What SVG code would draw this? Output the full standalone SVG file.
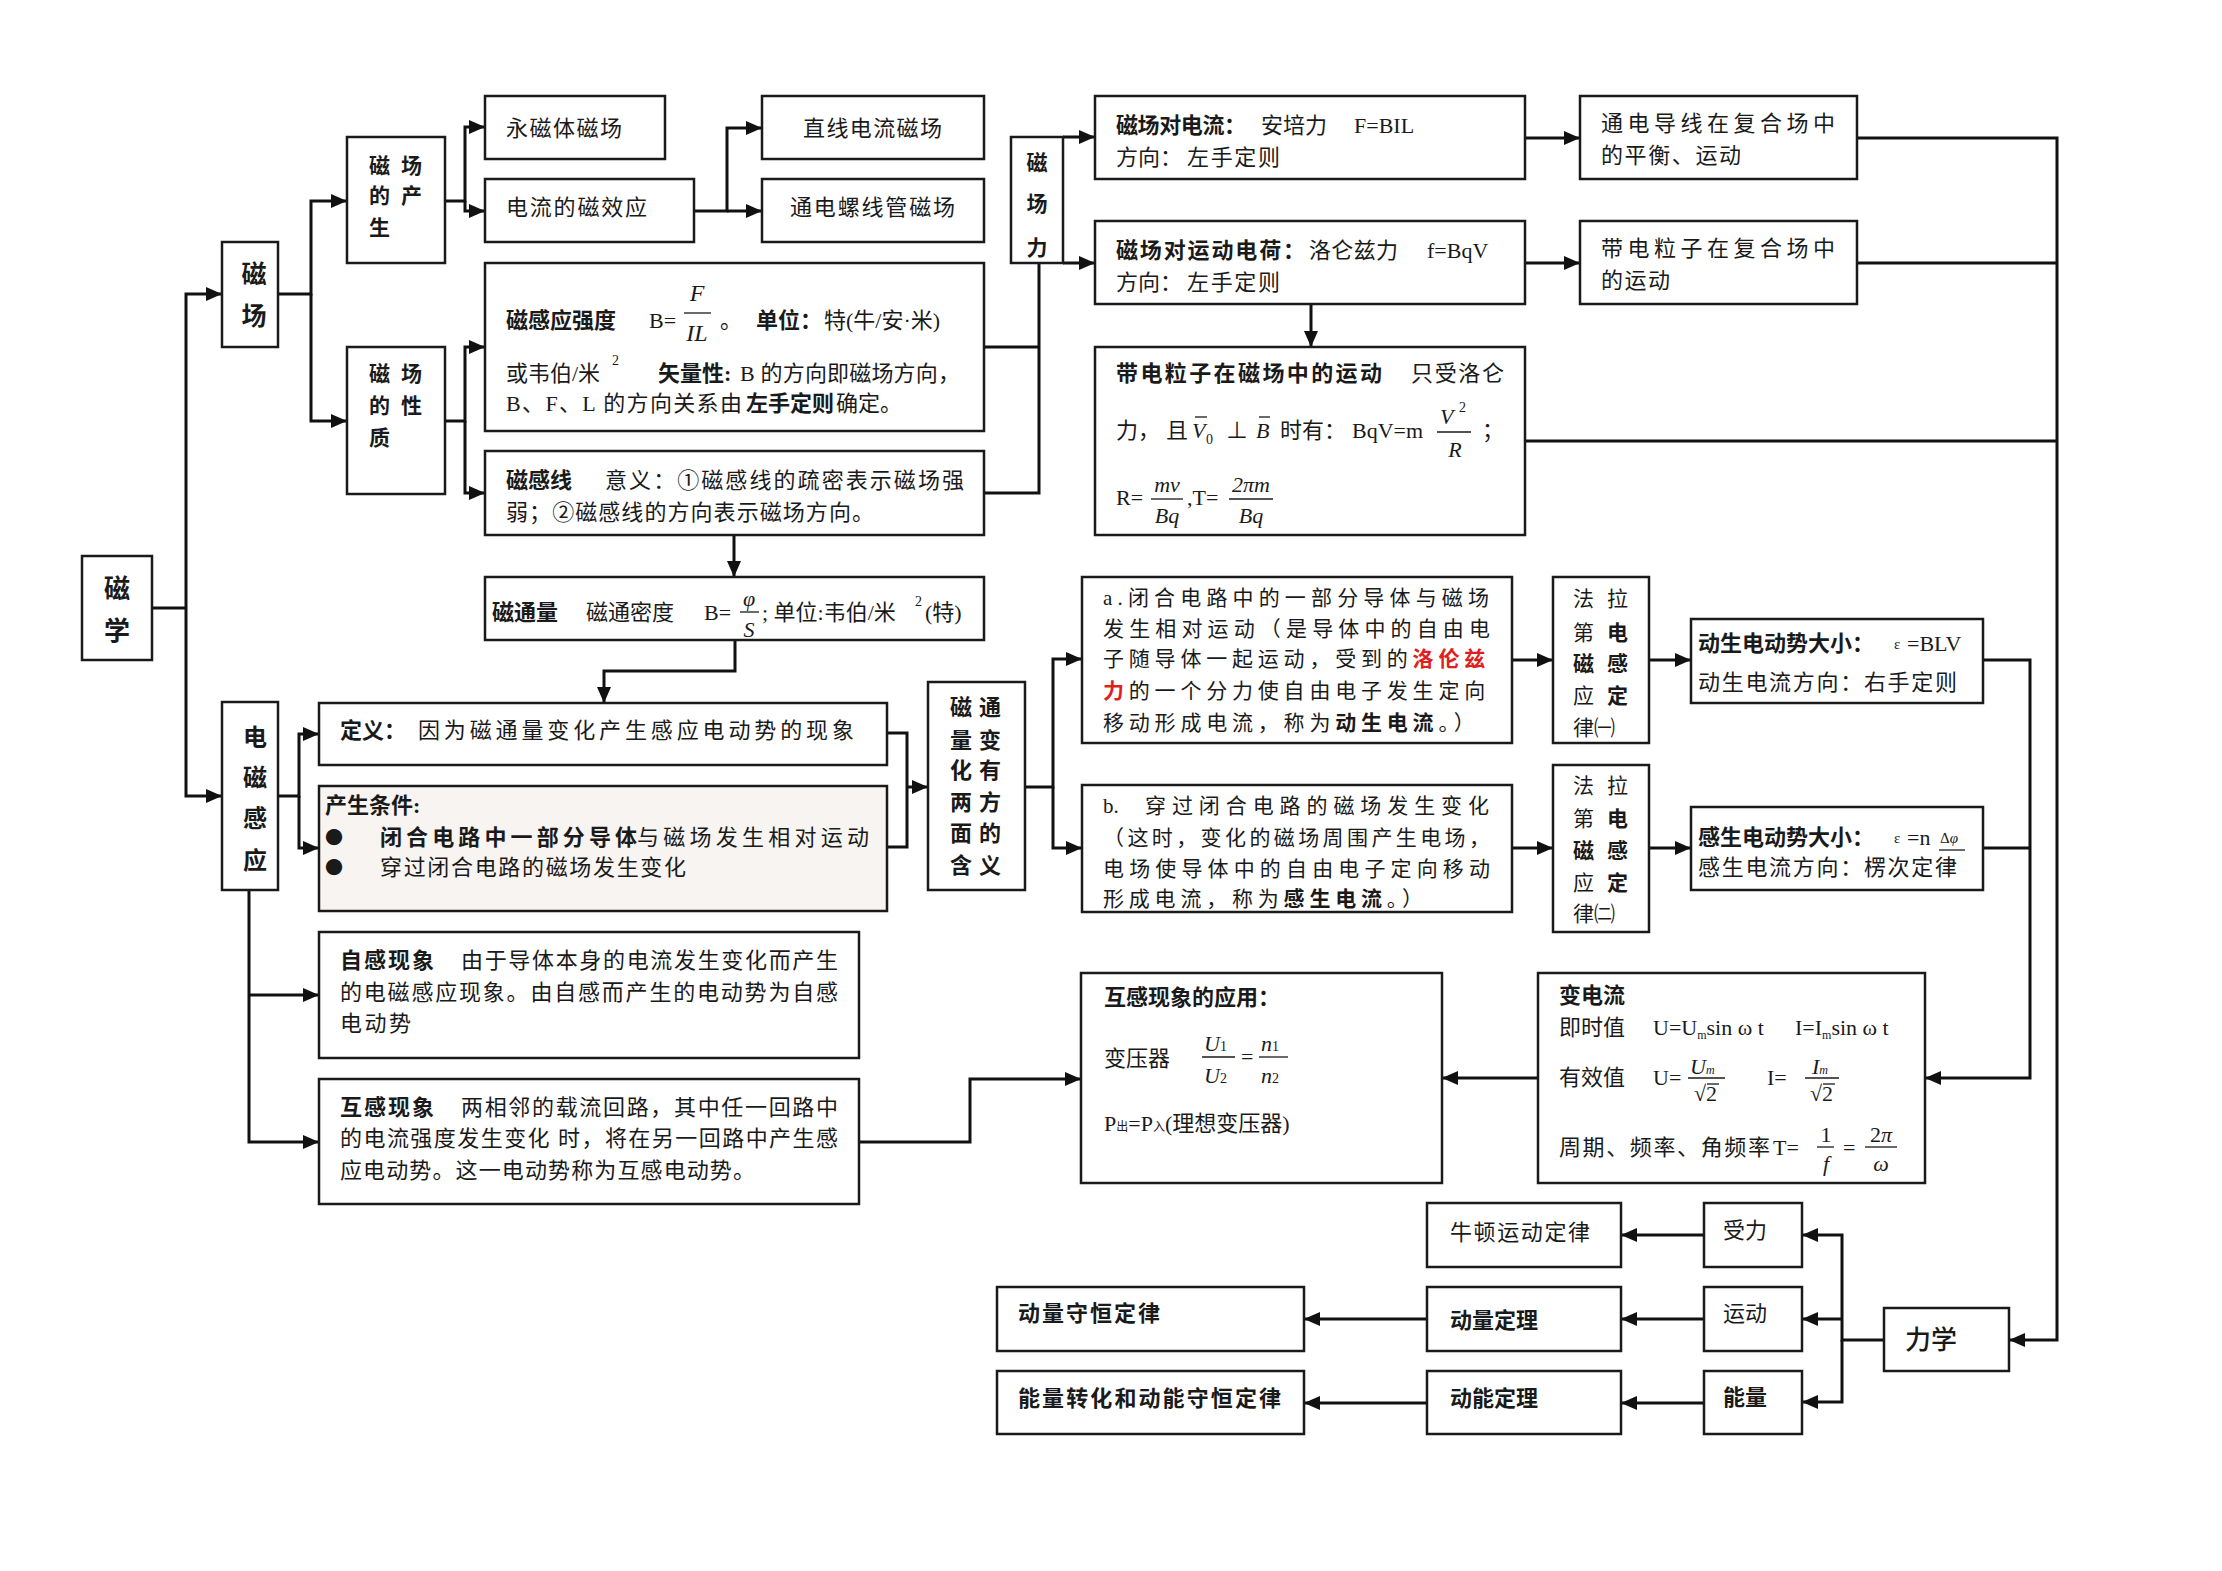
<svg xmlns="http://www.w3.org/2000/svg" width="2222" height="1571" viewBox="0 0 2222 1571">
<defs>
<style>
.bx{fill:#fff;stroke:#1a1a1a;stroke-width:2.5}
.ln{fill:none;stroke:#111;stroke-width:3}
.fr{stroke:#1a1a1a;stroke-width:1.3}
text{font-family:"Liberation Serif","Noto Sans CJK SC",serif;font-size:22px;fill:#1a1a1a}
.h{font-weight:bold}
.k{font-family:"Noto Sans CJK SC",sans-serif}
.i{font-style:italic}
.r{fill:#e02020;font-weight:bold}
.sm{font-size:14px}
.f20{font-size:22px}
.bul{font-family:"Noto Sans CJK SC",sans-serif;font-size:18px}
</style>
<marker id="ah" markerUnits="userSpaceOnUse" markerWidth="16" markerHeight="14" refX="16" refY="7" orient="auto"><path d="M0,0 L16,7 L0,14 z" fill="#111"/></marker>
</defs>
<rect width="2222" height="1571" fill="#fff"/>

<g id="connectors" class="ln">
<path d="M152,608 H186"/>
<path d="M186,608 V294 H222" marker-end="url(#ah)"/>
<path d="M186,608 V796 H222" marker-end="url(#ah)"/>
<path d="M278,294 H311 V201 H347" marker-end="url(#ah)"/>
<path d="M311,294 V421 H347" marker-end="url(#ah)"/>
<path d="M445,201 H465 V127 H485" marker-end="url(#ah)"/>
<path d="M465,201 V211 H485" marker-end="url(#ah)"/>
<path d="M445,421 H465 V347 H485" marker-end="url(#ah)"/>
<path d="M465,421 V493 H485" marker-end="url(#ah)"/>
<path d="M694,211 H727 V128 H762" marker-end="url(#ah)"/>
<path d="M727,211 H762" marker-end="url(#ah)"/>
<path d="M984,347 H1039"/>
<path d="M984,493 H1039 V263"/>
<path d="M1063,137 H1095" marker-end="url(#ah)"/>
<path d="M1063,263 H1095" marker-end="url(#ah)"/>
<path d="M1525,138 H1580" marker-end="url(#ah)"/>
<path d="M1525,263 H1580" marker-end="url(#ah)"/>
<path d="M1311,304 V347" marker-end="url(#ah)"/>
<path d="M1857,138 H2057 V1340 H2009" marker-end="url(#ah)"/>
<path d="M1857,263 H2057"/>
<path d="M1525,441 H2057"/>
<path d="M734,535 V577" marker-end="url(#ah)"/>
<path d="M735,640 V671 H604 V703" marker-end="url(#ah)"/>
<path d="M278,796 H299 V734 H319" marker-end="url(#ah)"/>
<path d="M299,796 V848 H319" marker-end="url(#ah)"/>
<path d="M887,733 H907 V847 H887"/>
<path d="M907,787 H928" marker-end="url(#ah)"/>
<path d="M1025,787 H1053 V659 H1082" marker-end="url(#ah)"/>
<path d="M1053,787 V848 H1082" marker-end="url(#ah)"/>
<path d="M1512,660 H1553" marker-end="url(#ah)"/>
<path d="M1649,660 H1691" marker-end="url(#ah)"/>
<path d="M1512,848 H1553" marker-end="url(#ah)"/>
<path d="M1649,848 H1691" marker-end="url(#ah)"/>
<path d="M1983,660 H2030 V1078 H1925" marker-end="url(#ah)"/>
<path d="M1983,848 H2030"/>
<path d="M1538,1078 H1442" marker-end="url(#ah)"/>
<path d="M249,890 V1142 H319" marker-end="url(#ah)"/>
<path d="M249,995 H319" marker-end="url(#ah)"/>
<path d="M859,1142 H970 V1079 H1081" marker-end="url(#ah)"/>
<path d="M1884,1340 H1842 V1235 H1802" marker-end="url(#ah)"/>
<path d="M1842,1340 V1402 H1802" marker-end="url(#ah)"/>
<path d="M1842,1319 H1802" marker-end="url(#ah)"/>
<path d="M1704,1235 H1621" marker-end="url(#ah)"/>
<path d="M1704,1319 H1621" marker-end="url(#ah)"/>
<path d="M1704,1403 H1621" marker-end="url(#ah)"/>
<path d="M1427,1319 H1304" marker-end="url(#ah)"/>
<path d="M1427,1403 H1304" marker-end="url(#ah)"/>
</g>

<g id="cixue"><rect class="bx" x="82" y="556" width="70" height="104"/>
<text class="h" style="font-size:26px" x="117" y="598" text-anchor="middle">磁</text>
<text class="h" style="font-size:26px" x="117" y="640" text-anchor="middle">学</text></g>

<g id="cichang"><rect class="bx" x="222" y="242" width="56" height="105"/>
<text class="h" style="font-size:25px" x="254" y="283" text-anchor="middle">磁</text>
<text class="h" style="font-size:25px" x="254" y="325" text-anchor="middle">场</text></g>

<g id="chansheng"><rect class="bx" x="347" y="137" width="98" height="126"/>
<text class="h" style="font-size:21px" x="369 401" y="173">磁场</text>
<text class="h" style="font-size:21px" x="369 401" y="203">的产</text>
<text class="h" style="font-size:21px" x="369" y="235">生</text></g>

<g id="xingzhi"><rect class="bx" x="347" y="347" width="98" height="147"/>
<text class="h" style="font-size:21px" x="369 401" y="381">磁场</text>
<text class="h" style="font-size:21px" x="369 401" y="413">的性</text>
<text class="h" style="font-size:21px" x="369" y="445">质</text></g>

<g id="yongci"><rect class="bx" x="485" y="96" width="180" height="63"/>
<text x="506" y="136" textLength="116">永磁体磁场</text></g>

<g id="dianliu"><rect class="bx" x="485" y="179" width="209" height="63"/>
<text x="506" y="215" textLength="141">电流的磁效应</text></g>

<g id="zhixian"><rect class="bx" x="762" y="96" width="222" height="63"/>
<text x="803" y="136" textLength="139">直线电流磁场</text></g>

<g id="luoxian"><rect class="bx" x="762" y="179" width="222" height="63"/>
<text x="790" y="215" textLength="165">通电螺线管磁场</text></g>

<g id="qiangdu"><rect class="bx" x="485" y="263" width="499" height="168"/>
<text class="h" x="506" y="328">磁感应强度</text>
<text x="649" y="328">B=</text>
<text class="i" style="font-size:24px" x="697" y="301" text-anchor="middle">F</text>
<line class="fr" x1="684" y1="313" x2="711" y2="313"/>
<text class="i" style="font-size:24px" x="697" y="341" text-anchor="middle">IL</text>
<text x="720" y="328">。</text>
<text class="h" x="756" y="328">单位：</text>
<text x="824" y="328">特(牛/安·米)</text>
<text x="506" y="381">或韦伯/米</text>
<text class="sm" x="612" y="365">2</text>
<text class="h" x="658" y="381">矢量性:</text>
<text x="740" y="381" textLength="220">B 的方向即磁场方向，</text>
<text x="506" y="411" textLength="236">B、F、L 的方向关系由</text>
<text class="h" x="746" y="411">左手定则</text>
<text x="836" y="411">确定。</text></g>

<g id="cigan"><rect class="bx" x="485" y="451" width="499" height="84"/>
<text class="h" x="506" y="488">磁感线</text>
<text x="605" y="488" textLength="359">意义：①磁感线的疏密表示磁场强</text>
<text x="506" y="520" textLength="368">弱；②磁感线的方向表示磁场方向。</text></g>

<g id="cichangli"><rect class="bx" x="1011" y="137" width="52" height="126"/>
<text class="h" style="font-size:21px" x="1037" y="170" text-anchor="middle">磁</text>
<text class="h" style="font-size:21px" x="1037" y="211" text-anchor="middle">场</text>
<text class="h" style="font-size:21px" x="1037" y="255" text-anchor="middle">力</text></g>

<g id="anpei"><rect class="bx" x="1095" y="96" width="430" height="83"/>
<text class="h" x="1116" y="133" textLength="130">磁场对电流：</text>
<text x="1261" y="133">安培力</text>
<text x="1354" y="133">F=BIL</text>
<text x="1116" y="165">方向：</text>
<text x="1187" y="165" textLength="93">左手定则</text></g>

<g id="luolun"><rect class="bx" x="1095" y="221" width="430" height="83"/>
<text class="h" x="1116" y="258" textLength="189">磁场对运动电荷：</text>
<text x="1309" y="258" textLength="89">洛仑兹力</text>
<text x="1427" y="258">f=BqV</text>
<text x="1116" y="290">方向：</text>
<text x="1187" y="290" textLength="93">左手定则</text></g>

<g id="lizi"><rect class="bx" x="1095" y="347" width="430" height="188"/>
<text class="h" x="1116" y="381" textLength="266">带电粒子在磁场中的运动</text>
<text x="1411" y="381" textLength="93">只受洛仑</text>
<text x="1116" y="438">力，</text>
<text x="1166" y="438">且</text>
<text class="i" x="1192" y="438">V</text>
<line class="fr" x1="1195" y1="417" x2="1207" y2="417"/>
<text class="sm" x="1206" y="444">0</text>
<text x="1226" y="438">⊥</text>
<text class="i" x="1256" y="438">B</text>
<line class="fr" x1="1259" y1="417" x2="1270" y2="417"/>
<text x="1280" y="438">时有：</text>
<text x="1352" y="438">BqV=m</text>
<text class="i" x="1440" y="424">V</text>
<text class="sm" x="1459" y="412">2</text>
<line class="fr" x1="1437" y1="432" x2="1471" y2="432"/>
<text class="i" x="1455" y="457" text-anchor="middle">R</text>
<text x="1482" y="438">；</text>
<text x="1116" y="505">R=</text>
<text class="i f20" x="1167" y="492" text-anchor="middle">mv</text>
<line class="fr" x1="1151" y1="499" x2="1183" y2="499"/>
<text class="i f20" x="1167" y="523" text-anchor="middle">Bq</text>
<text x="1187" y="505">,T=</text>
<text class="i f20" x="1251" y="492" text-anchor="middle">2πm</text>
<line class="fr" x1="1229" y1="499" x2="1273" y2="499"/>
<text class="i f20" x="1251" y="523" text-anchor="middle">Bq</text></g>

<g id="fuhe1"><rect class="bx" x="1580" y="96" width="277" height="83"/>
<text x="1601" y="131" textLength="234">通电导线在复合场中</text>
<text x="1601" y="163" textLength="140">的平衡、运动</text></g>

<g id="fuhe2"><rect class="bx" x="1580" y="221" width="277" height="83"/>
<text x="1601" y="256" textLength="234">带电粒子在复合场中</text>
<text x="1601" y="288" textLength="69">的运动</text></g>

<g id="citongliang"><rect class="bx" x="485" y="577" width="499" height="63"/>
<text class="h" x="492" y="620">磁通量</text>
<text x="586" y="620">磁通密度</text>
<text x="704" y="620">B=</text>
<text class="i f20" x="749" y="606" text-anchor="middle">φ</text>
<line class="fr" x1="740" y1="612" x2="759" y2="612"/>
<text class="i f20" x="749" y="637" text-anchor="middle">S</text>
<text x="762" y="620">; 单位:韦伯/米</text>
<text class="sm" x="915" y="606">2</text>
<text x="925" y="620">(特)</text></g>

<g id="dianci"><rect class="bx" x="222" y="702" width="56" height="188"/>
<text class="h" style="font-size:24px" x="255" y="746" text-anchor="middle">电</text>
<text class="h" style="font-size:24px" x="255" y="786" text-anchor="middle">磁</text>
<text class="h" style="font-size:24px" x="255" y="827" text-anchor="middle">感</text>
<text class="h" style="font-size:24px" x="255" y="869" text-anchor="middle">应</text></g>

<g id="dingyi"><rect class="bx" x="319" y="703" width="568" height="62"/>
<text class="h" x="340" y="738">定义：</text>
<text x="418" y="738" textLength="436">因为磁通量变化产生感应电动势的现象</text></g>

<g id="tiaojian"><rect class="bx" x="319" y="786" width="568" height="125" style="fill:#f7f4f1"/>
<text class="h" x="325" y="813">产生条件:</text>
<text class="bul" x="325" y="844">●</text>
<text class="h" x="380" y="845" textLength="257">闭合电路中一部分导体</text>
<text x="637" y="845" textLength="232">与磁场发生相对运动</text>
<text class="bul" x="325" y="874">●</text>
<text x="380" y="875" textLength="306">穿过闭合电路的磁场发生变化</text></g>

<g id="hanyi"><rect class="bx" x="928" y="682" width="97" height="208"/>
<text class="h" x="950 979" y="715">磁通</text>
<text class="h" x="950 979" y="748">量变</text>
<text class="h" x="950 979" y="778">化有</text>
<text class="h" x="950 979" y="810">两方</text>
<text class="h" x="950 979" y="841">面的</text>
<text class="h" x="950 979" y="873">含义</text></g>

<g id="dongsheng-a"><rect class="bx" x="1082" y="577" width="430" height="166"/>
<text style="font-size:21px" x="1103" y="605" textLength="386">a.闭合电路中的一部分导体与磁场</text>
<text style="font-size:21px" x="1103" y="636" textLength="387">发生相对运动（是导体中的自由电</text>
<text style="font-size:21px;letter-spacing:4.8px" x="1103" y="666">子随导体一起运动，受到的<tspan class="r">洛伦兹</tspan></text>
<text style="font-size:21px;letter-spacing:4.8px" x="1103" y="698"><tspan class="r">力</tspan>的一个分力使自由电子发生定向</text>
<text style="font-size:21px;letter-spacing:4.8px" x="1103" y="730">移动形成电流，称为<tspan class="h">动生电流</tspan>。）</text></g>

<g id="gansheng-b"><rect class="bx" x="1082" y="785" width="430" height="127"/>
<text style="font-size:21px" x="1103" y="813">b.</text>
<text style="font-size:21px" x="1145" y="813" textLength="344">穿过闭合电路的磁场发生变化</text>
<text style="font-size:21px" x="1103" y="845" textLength="387">（这时，变化的磁场周围产生电场，</text>
<text style="font-size:21px" x="1103" y="876" textLength="387">电场使导体中的自由电子定向移动</text>
<text style="font-size:21px;letter-spacing:4.8px" x="1103" y="906">形成电流，称为<tspan class="h">感生电流</tspan>。）</text></g>

<g id="faladi1"><rect class="bx" x="1553" y="577" width="96" height="166"/>
<text style="font-size:21px" x="1573 1607" y="606">法拉</text>
<text style="font-size:21px" x="1573" y="640">第<tspan class="h" x="1607">电</tspan></text>
<text class="h" style="font-size:21px" x="1573 1607" y="671">磁感</text>
<text style="font-size:21px" x="1573" y="703">应<tspan class="h" x="1607">定</tspan></text>
<text style="font-size:21px" x="1573" y="735">律㈠</text></g>

<g id="faladi2"><rect class="bx" x="1553" y="765" width="96" height="167"/>
<text style="font-size:21px" x="1573 1607" y="793">法拉</text>
<text style="font-size:21px" x="1573" y="826">第<tspan class="h" x="1607">电</tspan></text>
<text class="h" style="font-size:21px" x="1573 1607" y="858">磁感</text>
<text style="font-size:21px" x="1573" y="890">应<tspan class="h" x="1607">定</tspan></text>
<text style="font-size:21px" x="1573" y="921">律㈡</text></g>

<g id="dongsheng-emf"><rect class="bx" x="1691" y="619" width="292" height="84"/>
<text class="h" x="1698" y="651" textLength="176">动生电动势大小：</text>
<text style="font-size:15px" x="1894" y="649">ε</text>
<text x="1907" y="651">=BLV</text>
<text x="1698" y="690" textLength="259">动生电流方向：右手定则</text></g>

<g id="gansheng-emf"><rect class="bx" x="1691" y="807" width="292" height="83"/>
<text class="h" x="1698" y="845" textLength="176">感生电动势大小：</text>
<text style="font-size:15px" x="1894" y="843">ε</text>
<text x="1907" y="845">=n</text>
<text style="font-size:15px" x="1940" y="843">Δ<tspan class="i">φ</tspan></text>
<line class="fr" x1="1939" y1="850" x2="1965" y2="850"/>
<text x="1698" y="875" textLength="259">感生电流方向：楞次定律</text></g>

<g id="zigan"><rect class="bx" x="319" y="932" width="540" height="126"/>
<text class="h" x="340" y="968" textLength="94">自感现象</text>
<text x="461" y="968" textLength="377">由于导体本身的电流发生变化而产生</text>
<text x="340" y="1000" textLength="498">的电磁感应现象。由自感而产生的电动势为自感</text>
<text x="340" y="1031" textLength="71">电动势</text></g>

<g id="hugan"><rect class="bx" x="319" y="1079" width="540" height="125"/>
<text class="h" x="340" y="1115" textLength="94">互感现象</text>
<text x="461" y="1115" textLength="377">两相邻的载流回路，其中任一回路中</text>
<text x="340" y="1146" textLength="498">的电流强度发生变化 时，将在另一回路中产生感</text>
<text x="340" y="1178" textLength="415">应电动势。这一电动势称为互感电动势。</text></g>

<g id="yingyong"><rect class="bx" x="1081" y="973" width="361" height="210"/>
<text class="h" x="1104" y="1005">互感现象的应用：</text>
<text x="1104" y="1066">变压器</text>
<text class="i f20" x="1204" y="1051">U<tspan class="sm" style="font-style:normal">1</tspan></text>
<line class="fr" x1="1202" y1="1057" x2="1235" y2="1057"/>
<text class="i f20" x="1204" y="1083">U<tspan class="sm" style="font-style:normal">2</tspan></text>
<text x="1241" y="1064">=</text>
<text class="i f20" x="1261" y="1051">n<tspan class="sm" style="font-style:normal">1</tspan></text>
<line class="fr" x1="1259" y1="1057" x2="1288" y2="1057"/>
<text class="i f20" x="1261" y="1083">n<tspan class="sm" style="font-style:normal">2</tspan></text>
<text x="1104" y="1131">P<tspan style="font-size:12px">出</tspan>=P<tspan style="font-size:12px">入</tspan>(理想变压器)</text></g>

<g id="jiaoliu"><rect class="bx" x="1538" y="973" width="387" height="210"/>
<text class="h" x="1559" y="1003">变电流</text>
<text x="1559" y="1035">即时值</text>
<text x="1653" y="1035">U=U<tspan style="font-size:12px" dy="4">m</tspan><tspan dy="-4">sin ω t</tspan></text>
<text x="1795" y="1035">I=I<tspan style="font-size:12px" dy="4">m</tspan><tspan dy="-4">sin ω t</tspan></text>
<text x="1559" y="1085">有效值</text>
<text x="1653" y="1085">U=</text>
<text class="i f20" x="1690" y="1074">U<tspan style="font-size:12px">m</tspan></text>
<line class="fr" x1="1688" y1="1078" x2="1725" y2="1078"/>
<text class="f20" x="1694" y="1101">√2</text>
<line class="fr" x1="1707" y1="1084" x2="1719" y2="1084"/>
<text x="1767" y="1085">I=</text>
<text class="i f20" x="1812" y="1074">I<tspan style="font-size:12px">m</tspan></text>
<line class="fr" x1="1805" y1="1078" x2="1839" y2="1078"/>
<text class="f20" x="1810" y="1101">√2</text>
<line class="fr" x1="1823" y1="1084" x2="1835" y2="1084"/>
<text x="1559" y="1155" textLength="211">周期、频率、角频率</text>
<text x="1773" y="1155">T=</text>
<text class="f20" x="1826" y="1142" text-anchor="middle">1</text>
<line class="fr" x1="1817" y1="1147" x2="1834" y2="1147"/>
<text class="i f20" x="1826" y="1171" text-anchor="middle">f</text>
<text x="1843" y="1155">=</text>
<text class="f20" x="1881" y="1142" text-anchor="middle">2<tspan class="i">π</tspan></text>
<line class="fr" x1="1865" y1="1147" x2="1897" y2="1147"/>
<text class="i f20" x="1881" y="1171" text-anchor="middle">ω</text></g>

<g id="lixue"><rect class="bx" x="1884" y="1308" width="125" height="63"/>
<text class="k" style="font-size:26px;font-weight:500" x="1905" y="1349">力学</text></g>

<g id="shouli"><rect class="bx" x="1704" y="1203" width="98" height="64"/>
<text class="k" x="1723" y="1238">受力</text></g>
<g id="yundong"><rect class="bx" x="1704" y="1287" width="98" height="64"/>
<text class="k" x="1723" y="1321">运动</text></g>
<g id="nengliang"><rect class="bx" x="1704" y="1371" width="98" height="63"/>
<text class="k h" x="1723" y="1405">能量</text></g>

<g id="niudun"><rect class="bx" x="1427" y="1203" width="194" height="64"/>
<text class="k" x="1450" y="1240" textLength="140">牛顿运动定律</text></g>
<g id="dongliangdingli"><rect class="bx" x="1427" y="1287" width="194" height="64"/>
<text class="k h" x="1450" y="1328">动量定理</text></g>
<g id="dongnengdingli"><rect class="bx" x="1427" y="1371" width="194" height="63"/>
<text class="k h" x="1450" y="1406">动能定理</text></g>

<g id="shouheng"><rect class="bx" x="997" y="1287" width="307" height="64"/>
<text class="k h" x="1018" y="1321" textLength="142">动量守恒定律</text></g>
<g id="nengliangzhuanhua"><rect class="bx" x="997" y="1371" width="307" height="63"/>
<text class="k h" x="1018" y="1406" textLength="263">能量转化和动能守恒定律</text></g>
</svg>
